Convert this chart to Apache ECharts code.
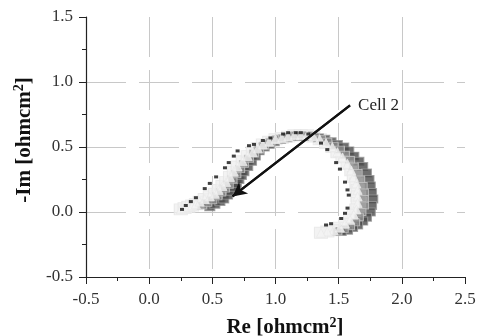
<!DOCTYPE html>
<html>
<head>
<meta charset="utf-8">
<script src="https://cdn.jsdelivr.net/npm/echarts@6/dist/echarts.min.js"></script>
<style>
  html, body { margin: 0; padding: 0; background: #fff; }
  #chart { width: 477px; height: 336px; }
</style>
</head>
<body>
<div id="chart"></div>
<script>
// impedance spectra, Cell 2 (Re, -Im) in ohm cm2
const darkSeries = [
  [0.48, 0.04], [0.52, 0.06], [0.56, 0.08], [0.59, 0.10], [0.62, 0.13], [0.65, 0.16],
  [0.67, 0.19], [0.69, 0.22], [0.71, 0.25], [0.73, 0.28], [0.75, 0.31], [0.78, 0.35],
  [0.81, 0.39], [0.84, 0.43], [0.87, 0.47], [0.91, 0.50], [0.95, 0.52], [0.99, 0.54],
  [1.04, 0.56], [1.09, 0.57], [1.14, 0.58], [1.19, 0.58], [1.24, 0.58], [1.29, 0.58],
  [1.34, 0.57], [1.39, 0.56], [1.44, 0.54], [1.49, 0.52], [1.54, 0.50], [1.58, 0.47],
  [1.62, 0.43], [1.66, 0.39], [1.69, 0.35], [1.72, 0.30], [1.74, 0.25], [1.75, 0.20],
  [1.76, 0.15], [1.77, 0.10], [1.76, 0.05], [1.75, 0.00], [1.72, -0.04], [1.69, -0.07],
  [1.65, -0.10], [1.61, -0.12], [1.57, -0.14], [1.52, -0.15]
];
const midSeries = [
  [0.42, 0.05], [0.46, 0.07], [0.50, 0.09], [0.54, 0.12], [0.57, 0.15], [0.60, 0.18],
  [0.63, 0.21], [0.66, 0.25], [0.69, 0.29], [0.72, 0.33], [0.75, 0.37], [0.79, 0.41],
  [0.83, 0.45], [0.87, 0.48], [0.91, 0.51], [0.96, 0.54], [1.01, 0.56], [1.06, 0.57],
  [1.11, 0.58], [1.16, 0.59], [1.21, 0.59], [1.26, 0.59], [1.31, 0.58], [1.36, 0.56],
  [1.41, 0.54], [1.46, 0.51], [1.51, 0.48], [1.55, 0.44], [1.59, 0.40], [1.62, 0.35],
  [1.65, 0.30], [1.67, 0.25], [1.69, 0.20], [1.70, 0.15], [1.70, 0.10], [1.70, 0.05],
  [1.68, 0.00], [1.66, -0.04], [1.63, -0.08], [1.59, -0.11], [1.54, -0.13], [1.49, -0.15]
];
const lightSeries = [
  [0.25, 0.02], [0.28, 0.03], [0.31, 0.04], [0.34, 0.05], [0.37, 0.06], [0.40, 0.08],
  [0.44, 0.10], [0.48, 0.12], [0.52, 0.14], [0.55, 0.17], [0.58, 0.20], [0.61, 0.23],
  [0.64, 0.27], [0.67, 0.31], [0.70, 0.35], [0.74, 0.39], [0.78, 0.43], [0.82, 0.46],
  [0.86, 0.49], [0.90, 0.52], [0.95, 0.54], [1.00, 0.56], [1.05, 0.57], [1.10, 0.58],
  [1.15, 0.59], [1.20, 0.59], [1.25, 0.59], [1.30, 0.58], [1.35, 0.56], [1.40, 0.53],
  [1.45, 0.50], [1.49, 0.46], [1.53, 0.42], [1.57, 0.37], [1.60, 0.32], [1.62, 0.27],
  [1.64, 0.22], [1.65, 0.17], [1.65, 0.12], [1.65, 0.07], [1.64, 0.02], [1.62, -0.02],
  [1.59, -0.06], [1.55, -0.09], [1.51, -0.12], [1.46, -0.14], [1.41, -0.15], [1.36, -0.16]
];
const blackSeries = [
  [0.26, 0.02], [0.29, 0.05], [0.33, 0.08], [0.37, 0.11], [0.44, 0.18],
  [0.48, 0.22], [0.53, 0.27], [0.60, 0.34], [0.63, 0.38], [0.67, 0.43],
  [0.70, 0.47], [0.79, 0.51], [0.83, 0.52], [0.90, 0.55], [0.96, 0.57],
  [1.06, 0.60], [1.10, 0.61], [1.16, 0.61], [1.20, 0.61], [1.26, 0.60],
  [1.36, 0.53], [1.41, 0.48], [1.48, 0.38], [1.51, 0.33],
  [1.55, 0.23], [1.57, 0.17], [1.58, 0.13], [1.57, 0.03],
  [1.55, -0.01], [1.52, -0.05], [1.44, -0.09], [1.40, -0.10]
];
const arrowFrom = [1.59, 0.82];
const arrowTo = [0.66, 0.12];
const xTicks = [-0.5, 2.5, 0.5];
const yTicks = [-0.5, 1.5, 0.5];

const serif = '"Liberation Serif", "DejaVu Serif", serif';
const chart = echarts.init(document.getElementById('chart'));

const nameRich = {
  b: { fontFamily: serif, fontSize: 21, fontWeight: 'bold', color: '#111' },
  sup: { fontFamily: serif, fontSize: 14, fontWeight: 'bold', color: '#111', verticalAlign: 'top', padding: [0, 0, 10, 0] }
};

const axisCommon = {
  type: 'value',
  axisLine: { show: true, onZero: false, lineStyle: { color: '#222', width: 1.2 } },
  axisTick: { show: true, inside: false, length: 7, lineStyle: { color: '#222' } },
  minorTick: { show: true, splitNumber: 2, length: 4, lineStyle: { color: '#222' } },
  splitLine: {
    show: true, showMinLine: false, showMaxLine: false,
    lineStyle: { color: '#c8c8c8', type: [40, 13], width: 1 }
  },
  axisLabel: {
    fontFamily: serif, fontSize: 17, color: '#333',
    formatter: v => v.toFixed(1)
  },
  nameLocation: 'middle'
};

chart.setOption({
  animation: false,
  grid: { left: 86, right: 12, top: 17, bottom: 59, outerBoundsMode: 'none', containLabel: false },
  xAxis: Object.assign({}, axisCommon, {
    min: xTicks[0], max: xTicks[1], interval: xTicks[2],
    name: '{b|Re [ohmcm}{sup|2}{b|]}', nameGap: 39,
    nameTextStyle: { padding: [0, 0, 0, 19], rich: nameRich },
    axisLabel: Object.assign({}, axisCommon.axisLabel, { margin: 14 })
  }),
  yAxis: Object.assign({}, axisCommon, {
    min: yTicks[0], max: yTicks[1], interval: yTicks[2],
    name: '{b|-Im [ohmcm}{sup|2}{b|]}', nameGap: 47,
    nameTextStyle: { padding: [0, 0, 0, 14], rich: nameRich },
    axisLabel: Object.assign({}, axisCommon.axisLabel, { margin: 13 })
  }),
  series: [
    {
      type: 'scatter', data: lightSeries, symbol: 'rect', symbolSize: [13, 11],
      itemStyle: { color: '#f0f0f0', borderColor: '#e6e6e6', borderWidth: 1 }
    },
    {
      type: 'scatter', data: darkSeries, symbol: 'rect', symbolSize: [10, 8],
      itemStyle: { color: '#4a4a4a', borderColor: '#9a9a9a', borderWidth: 1 }
    },
    {
      type: 'scatter', data: midSeries, symbol: 'rect', symbolSize: [9, 7],
      itemStyle: { color: '#8c8c8c', borderColor: '#c4c4c4', borderWidth: 1 }
    },
    {
      type: 'scatter', data: lightSeries, symbol: 'triangle', symbolSize: 9,
      itemStyle: { color: '#f4f4f4', borderColor: '#eaeaea', borderWidth: 1 }
    },
    {
      type: 'scatter', data: blackSeries, symbol: 'rect', symbolSize: [4, 3],
      itemStyle: { color: '#111' }
    },
    {
      type: 'line', data: [arrowFrom, arrowTo], symbol: 'none', silent: true,
      lineStyle: { color: '#111', width: 2.2 },
      markPoint: {
        symbol: 'circle', symbolSize: 0,
        data: [{ coord: arrowFrom, value: 'Cell 2' }],
        label: {
          show: true, position: 'right', distance: 8, formatter: 'Cell 2',
          fontFamily: serif, fontSize: 17, color: '#222'
        }
      },
      markLine: {
        symbol: ['none', 'arrow'], symbolSize: [11, 14], silent: true,
        label: { show: false },
        lineStyle: { color: '#111', width: 2.2, type: 'solid' },
        data: [[{ coord: arrowFrom }, { coord: arrowTo }]]
      }
    }
  ]
});
</script>
</body>
</html>
